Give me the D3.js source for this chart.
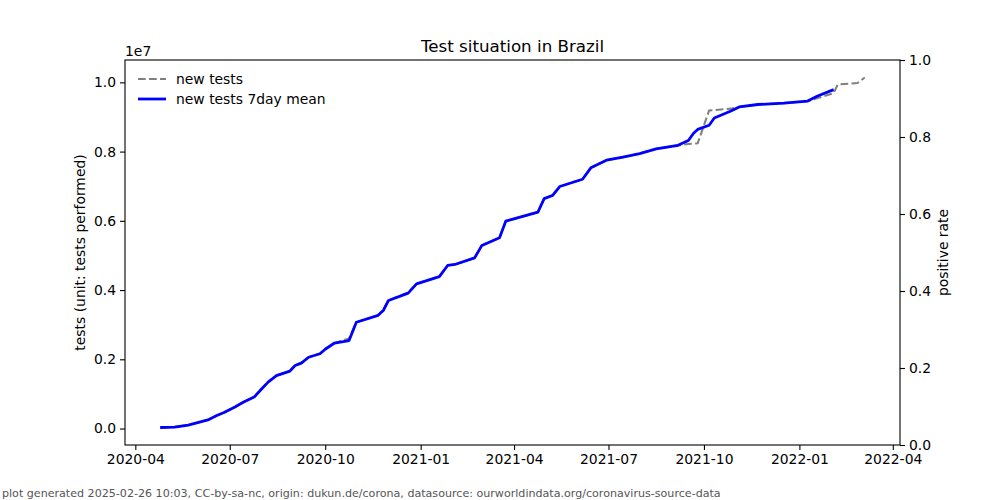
<!DOCTYPE html>
<html>
<head>
<meta charset="utf-8">
<script src="https://cdn.jsdelivr.net/npm/d3@7"></script>
<style>
  body { margin: 0; background: #fff; }
  svg { font-family: "DejaVu Sans", sans-serif; }
</style>
</head>
<body>
<svg id="chart" width="1000" height="500"></svg>
<script>
// dates of the sampled points
var dates = [
  "2020-04-25","2020-05-09","2020-05-22","2020-05-31","2020-06-10","2020-06-18","2020-06-26",
  "2020-07-06","2020-07-14","2020-07-25","2020-07-31","2020-08-07","2020-08-15","2020-08-28",
  "2020-09-02","2020-09-08","2020-09-15","2020-09-26","2020-10-01","2020-10-10","2020-10-24",
  "2020-10-31","2020-11-21","2020-11-26","2020-12-01","2020-12-20","2020-12-28","2021-01-19",
  "2021-01-27","2021-02-03","2021-02-22","2021-03-01","2021-03-18","2021-03-24","2021-04-24",
  "2021-04-30","2021-05-08","2021-05-15","2021-06-06","2021-06-14","2021-06-29","2021-07-15",
  "2021-07-31","2021-08-16","2021-09-06","2021-09-16","2021-09-21","2021-09-25","2021-10-06",
  "2021-10-11","2021-10-27","2021-11-04","2021-11-22","2021-12-17","2022-01-09","2022-01-18",
  "2022-02-03","2022-02-07","2022-02-26","2022-03-05"
];

// cumulative tests, millions
var newTests = [
  0.03, 0.05, 0.10, 0.17, 0.25, 0.37, 0.47,
  0.62, 0.76, 0.93, 1.13, 1.35, 1.53, 1.66,
  1.83, 1.90, 2.06, 2.17, 2.30, 2.47, 2.60,
  3.07, 3.27, 3.44, 3.70, 3.93, 4.18, 4.39,
  4.71, 4.74, 4.93, 5.29, 5.51, 5.99, 6.25,
  6.64, 6.74, 6.99, 7.20, 7.53, 7.75, 7.84,
  7.94, 8.08, 8.18, 8.22, 8.23, 8.24, 9.19,
  9.20, 9.24, 9.29, 9.36, 9.40, 9.46, 9.54,
  9.69, 9.94, 9.98, 10.14
];

var newTestsMean = [
  0.03, 0.04, 0.10, 0.17, 0.25, 0.37, 0.47,
  0.62, 0.76, 0.92, 1.12, 1.34, 1.53, 1.66,
  1.82, 1.89, 2.06, 2.16, 2.29, 2.47, 2.54,
  3.07, 3.27, 3.41, 3.70, 3.91, 4.18, 4.39,
  4.71, 4.74, 4.93, 5.29, 5.51, 5.99, 6.25,
  6.64, 6.73, 6.99, 7.20, 7.53, 7.75, 7.84,
  7.94, 8.08, 8.18, 8.32, 8.53, 8.64, 8.76,
  8.97, 9.17, 9.29, 9.36, 9.40, 9.46, 9.60,
  9.79, null, null, null
];

var rightTicks = [0, 0.2, 0.4, 0.6, 0.8, 1.0];

var margin = { left: 125, right: 100, top: 60, bottom: 55 };
var W = 1000, H = 500;
var iw = W - margin.left - margin.right;
var ih = H - margin.top - margin.bottom;

var parse = d3.timeParse("%Y-%m-%d");
var pts = dates.map(function(d, i) {
  return { date: parse(d), total: newTests[i] * 1e6, mean: newTestsMean[i] === null ? null : newTestsMean[i] * 1e6 };
});

var svg = d3.select("#chart");
var g = svg.append("g").attr("transform", "translate(" + margin.left + "," + margin.top + ")");

// matplotlib-like 5% padding
var xe = d3.extent(pts, function(d) { return d.date; });
var xpad = (xe[1] - xe[0]) * 0.05;
var x = d3.scaleTime()
  .domain([new Date(+xe[0] - xpad), new Date(+xe[1] + xpad)])
  .range([0, iw]);

var ymax = d3.max(pts, function(d) { return Math.max(d.total, d.mean || 0); });
var ymin = d3.min(pts, function(d) { return d.total; });
var ypad = (ymax - ymin) * 0.05;
var y = d3.scaleLinear().domain([ymin - ypad, ymax + ypad]).range([ih, 0]);
var yr = d3.scaleLinear().domain([0, 1]).range([ih, 0]);

var xAxis = d3.axisBottom(x)
  .ticks(d3.timeMonth.every(3))
  .tickFormat(d3.timeFormat("%Y-%m"))
  .tickSizeOuter(0).tickSize(5).tickPadding(4);
var yAxis = d3.axisLeft(y)
  .tickValues([0, 2e6, 4e6, 6e6, 8e6, 10e6])
  .tickFormat(function(d) { return (d / 1e7).toFixed(1); })
  .tickSizeOuter(0).tickSize(5).tickPadding(4);
var yAxisR = d3.axisRight(yr)
  .tickValues(rightTicks)
  .tickFormat(d3.format(".1f"))
  .tickSizeOuter(0).tickSize(5).tickPadding(4);

var gx = g.append("g").attr("transform", "translate(0," + ih + ")").call(xAxis);
var gy = g.append("g").call(yAxis);
var gyr = g.append("g").attr("transform", "translate(" + iw + ",0)").call(yAxisR);

[gx, gy, gyr].forEach(function(a) {
  a.select(".domain").remove();
  a.selectAll("text").attr("font-size", 13.9).attr("fill", "#000").attr("font-family", "DejaVu Sans");
  a.selectAll("line").attr("stroke", "#000").attr("stroke-width", 1.1);
});

// frame
g.append("rect")
  .attr("width", iw).attr("height", ih)
  .attr("fill", "none").attr("stroke", "#000").attr("stroke-width", 1.1);

var lineTotal = d3.line()
  .x(function(d) { return x(d.date); })
  .y(function(d) { return y(d.total); });
var lineMean = d3.line()
  .defined(function(d) { return d.mean !== null; })
  .x(function(d) { return x(d.date); })
  .y(function(d) { return y(d.mean); });

g.append("path").datum(pts)
  .attr("d", lineTotal)
  .attr("fill", "none").attr("stroke", "#808080")
  .attr("stroke-width", 2.08).attr("stroke-dasharray", "7.7,3.3");
g.append("path").datum(pts)
  .attr("d", lineMean)
  .attr("fill", "none").attr("stroke", "#0000ff")
  .attr("stroke-width", 2.78).attr("stroke-linejoin", "round");

// legend
var legend = g.append("g").attr("transform", "translate(13,19)");
var items = [
  { label: "new tests", color: "#808080", dash: "7.7,3.3", w: 2.08 },
  { label: "new tests 7day mean", color: "#0000ff", dash: null, w: 2.78 }
];
items.forEach(function(it, i) {
  var row = legend.append("g").attr("transform", "translate(0," + (i * 20) + ")");
  row.append("line").attr("x1", 0).attr("x2", 28).attr("y1", 0).attr("y2", 0)
    .attr("stroke", it.color).attr("stroke-width", it.w)
    .attr("stroke-dasharray", it.dash);
  row.append("text").attr("x", 38).attr("y", 5)
    .attr("font-size", 13.9).text(it.label);
});

// titles and labels
svg.append("text").attr("x", margin.left + iw / 2).attr("y", 52)
  .attr("text-anchor", "middle").attr("font-size", 16.7).text("Test situation in Brazil");
svg.append("text").attr("x", margin.left).attr("y", 56)
  .attr("font-size", 13.9).text("1e7");
svg.append("text")
  .attr("transform", "translate(85," + (margin.top + ih / 2) + ") rotate(-90)")
  .attr("text-anchor", "middle").attr("font-size", 13.9).text("tests (unit: tests performed)");
svg.append("text")
  .attr("transform", "translate(948," + (margin.top + ih / 2) + ") rotate(-90)")
  .attr("text-anchor", "middle").attr("font-size", 13.9).text("positive rate");
svg.append("text").attr("x", 2).attr("y", 497)
  .attr("font-size", 11.1).attr("fill", "#555")
  .text("plot generated 2025-02-26 10:03, CC-by-sa-nc, origin: dukun.de/corona, datasource: ourworldindata.org/coronavirus-source-data");
</script>
</body>
</html>
